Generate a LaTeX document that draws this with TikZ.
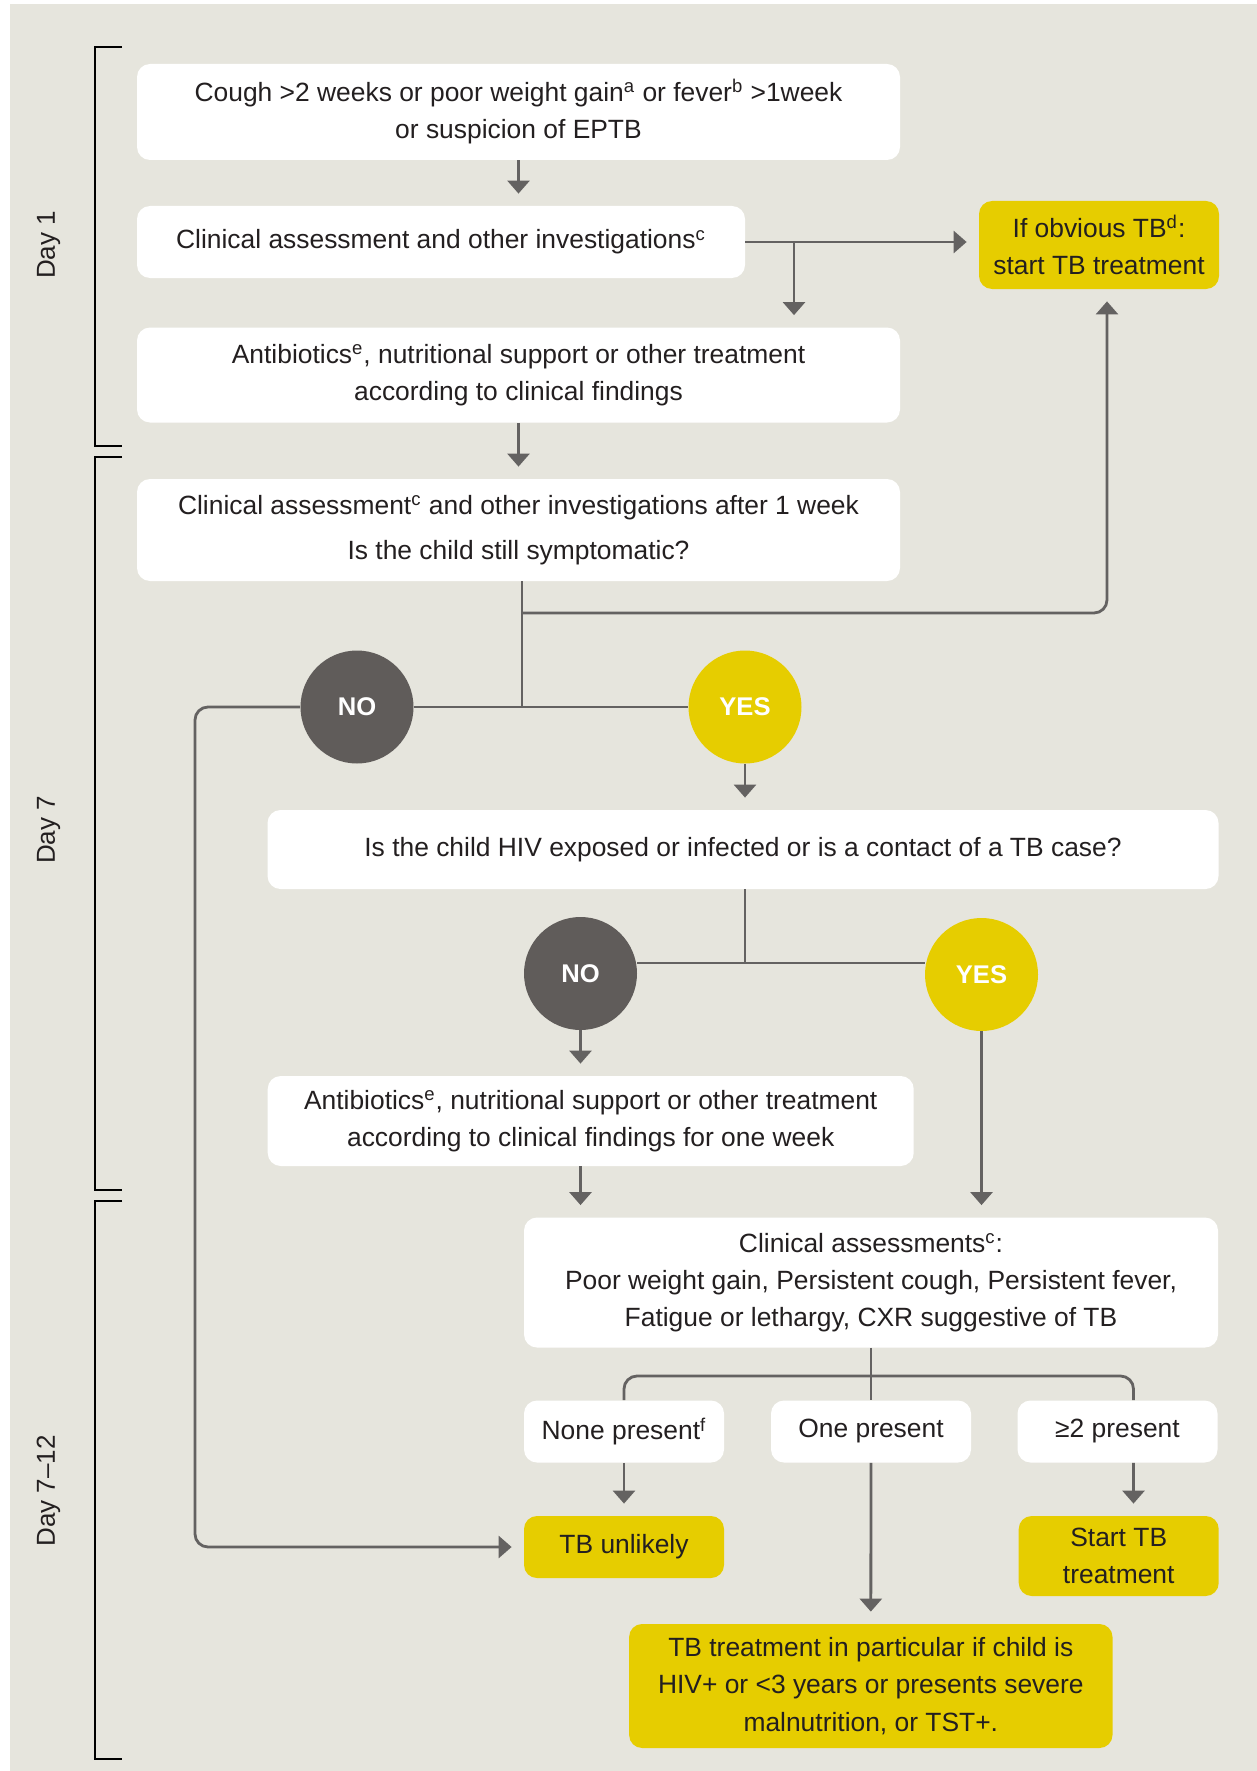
\documentclass[tikz,border=0pt]{standalone}
\usepackage{fontspec}
\setmainfont{Liberation Sans}
\usetikzlibrary{arrows.meta,calc}
\definecolor{bgcol}{RGB}{230,229,221}
\definecolor{tbyellow}{RGB}{230,205,0}
\definecolor{nogrey}{RGB}{96,92,90}
\definecolor{linegrey}{RGB}{100,98,97}
\definecolor{inkcol}{RGB}{35,31,32}

\begin{document}
\begin{tikzpicture}[
		x=0.5pt, y=-0.5pt,
		>={Triangle[width=11pt,length=6.5pt]},
		flow/.style={line width=1.4pt, draw=linegrey},
		arr/.style={flow, ->, shorten >=6pt},
		box/.style={fill=white, rounded corners=6.5pt, align=center, inner sep=0pt,
			text=inkcol, font=\fontsize{13.2}{18.6}\selectfont},
		tbbox/.style={box, fill=tbyellow},
		answer/.style={circle, minimum size=56.5pt, inner sep=0pt, text=white,
			font=\fontsize{12.8}{15}\selectfont\bfseries},
		dayline/.style={line width=1pt, black},
		daylabel/.style={rotate=90, text=inkcol, font=\fontsize{13}{15}\selectfont},
	]

	% ---------- page and background ----------
	\useasboundingbox (0,0) rectangle (1257,1771);
	\fill[bgcol] (10,4) rectangle (1257,1771);

	% ---------- day brackets ----------
	\draw[dayline] (122,47.4) -- (95,47.4) -- (95,446) -- (122,446);
	\draw[dayline] (122,457.4) -- (95,457.4) -- (95,1190.4) -- (122,1190.4);
	\draw[dayline] (122,1200.5) -- (95,1200.5) -- (95,1758.5) -- (122,1758.5);
	\node[daylabel] (day1) at (48.6,245) {Day 1};
	\node[daylabel] (day7) at (48.6,830) {Day 7};
	\node[daylabel] (day12) at (48.6,1491) {Day 7--12};

	% ---------- day 1 ----------
	\node[box, minimum width=381.5pt, minimum height=48pt] (cough) at (518.5,112)
	{Cough >2 weeks or poor weight gain\textsuperscript{a} or fever\textsuperscript{b} >1week\\or suspicion of EPTB};
	\node[box, minimum width=304pt, minimum height=36pt] (assess) at (441,242)
	{Clinical assessment and other investigations\textsuperscript{c}};
	\node[box, minimum width=381.5pt, minimum height=47.5pt] (abx) at (518.5,375)
	{Antibiotics\textsuperscript{e}, nutritional support or other treatment\\according to clinical findings};
	\node[tbbox, minimum width=120pt, minimum height=44pt] (obvious) at (1099,245)
	{If obvious TB\textsuperscript{d}:\\start TB treatment};

	% ---------- day 7 ----------
	\node[box, minimum width=381.5pt, minimum height=51pt] (week) at (518.5,530)
	{Clinical assessment\textsuperscript{c} and other investigations after 1 week\\[4pt]Is the child still symptomatic?};
	\node[answer, fill=nogrey] (no1) at (357,707) {NO};
	\node[answer, fill=tbyellow] (yes1) at (745,707) {YES};
	\node[box, minimum width=475.5pt, minimum height=39.5pt] (hiv) at (743,849.5)
	{Is the child HIV exposed or infected or is a contact of a TB case?};
	\node[answer, fill=nogrey] (no2) at (580.5,973.5) {NO};
	\node[answer, fill=tbyellow] (yes2) at (981.5,974.5) {YES};
	\node[box, minimum width=323pt, minimum height=45pt] (abx2) at (590.7,1121)
	{Antibiotics\textsuperscript{e}, nutritional support or other treatment\\according to clinical findings for one week};

	% ---------- day 7-12 ----------
	\node[box, minimum width=347pt, minimum height=65pt] (signs) at (871,1282.5)
	{Clinical assessments\textsuperscript{c}:\\Poor weight gain, Persistent cough, Persistent fever,\\Fatigue or lethargy, CXR suggestive of TB};
	\node[box, minimum width=100pt, minimum height=31pt] (none) at (624,1431.5) {None present\textsuperscript{f}};
	\node[box, minimum width=100pt, minimum height=31pt] (one) at (871,1431.5) {One present};
	\node[box, minimum width=100pt, minimum height=31pt] (two) at (1117.5,1431.5) {≥2 present};
	\node[tbbox, minimum width=100pt, minimum height=31pt] (unlikely) at (624,1547) {TB unlikely};
	\node[tbbox, minimum width=100pt, minimum height=40pt] (starttb) at (1118.7,1556) {Start TB\\treatment};
	\node[tbbox, minimum width=241.7pt, minimum height=62pt] (particular) at (870.8,1686)
	{TB treatment in particular if child is\\HIV+ or <3 years or presents severe\\malnutrition, or TST+.};

	% ---------- connectors ----------
	\coordinate (fork1) at (794,242);
	\coordinate (stem1) at (522,707);
	\coordinate (back) at (1107,613);
	\coordinate (leftrun) at (195,707);
	\coordinate (stem2) at (745,963);
	\coordinate (split) at (871,1376);

	\draw[arr] (cough.south) -- (cough.south |- assess.north);
	\draw[arr] (assess.east) -- (assess.east -| obvious.west);
	\draw[arr] (fork1) -- (fork1 |- abx.north);
	\draw[arr] (abx.south) -- (week.north);
	\draw[flow] (week.south -| stem1) -- (stem1);
	\draw[arr, rounded corners=6.5pt] (stem1 |- back) -- (back) -- (back |- obvious.south);
	\draw[flow] (no1.east) -- (yes1.west);
	\draw[arr, rounded corners=6.5pt] (no1.west) -- (leftrun) |- (unlikely.west);
	\draw[arr] (yes1.south) -- (yes1.south |- hiv.north);
	\draw[flow] (hiv.south -| stem2) -- (stem2);
	\draw[flow] (no2.east |- stem2) -- (yes2.west |- stem2);
	\draw[arr] (no2.south) -- (no2.south |- abx2.north);
	\draw[arr] (abx2.south -| no2) -- (signs.north -| no2);
	\draw[arr] (yes2.south) -- (yes2.south |- signs.north);
	\draw[flow] (signs.south) -- (one.north);
	\draw[flow, rounded corners=6.5pt] (none.north) |- (split) -| ($(two.north)+(8pt,0)$);
	\draw[arr] (none.south) -- (unlikely.north);
	\draw[arr] ($(two.south)+(8pt,0)$) -- ($(starttb.north)+(7.4pt,0)$);
	\draw[arr] (one.south) -- (particular.north);

\end{tikzpicture}
\end{document}
